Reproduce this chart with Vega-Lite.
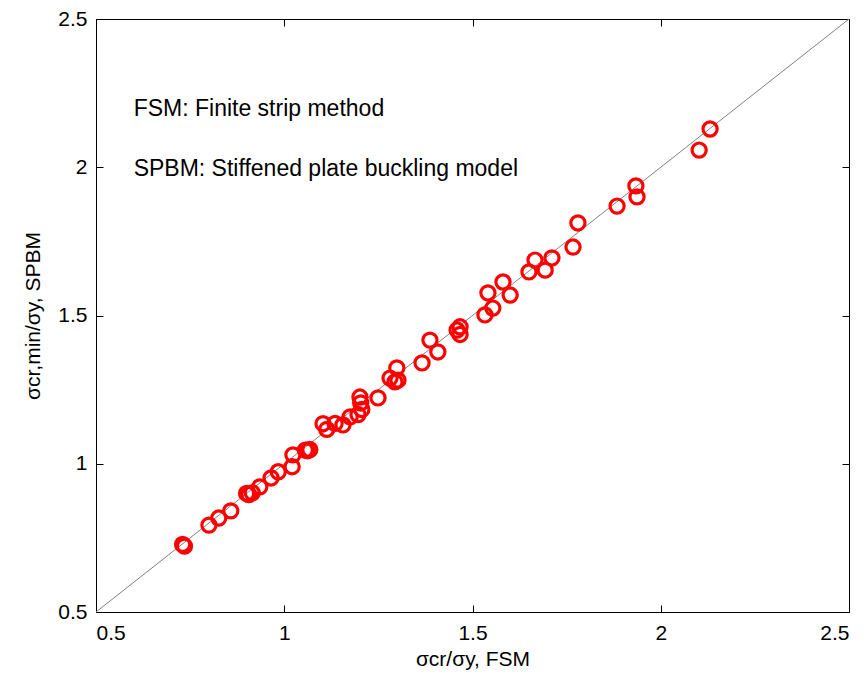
{
  "$schema": "https://vega.github.io/schema/vega-lite/v6.json",
  "width": 753,
  "height": 593,
  "autosize": {"type": "none"},
  "padding": {"left": 96, "top": 19, "right": 18, "bottom": 73},
  "background": "white",
  "config": {
    "view": {"stroke": "black", "strokeWidth": 1},
    "font": "Liberation Sans",
    "axis": {
      "grid": false,
      "domain": false,
      "offset": -7,
      "tickColor": "black",
      "tickSize": 7,
      "tickWidth": 1,
      "labelColor": "black",
      "labelFontSize": 21,
      "labelFont": "Liberation Sans",
      "titleColor": "black",
      "titleFontSize": 21,
      "titleFont": "Liberation Sans",
      "titleFontWeight": "normal"
    }
  },
  "datasets": {
    "pts": [
      {"fsm": 0.730, "spbm": 0.728},
      {"fsm": 0.735, "spbm": 0.722},
      {"fsm": 0.800, "spbm": 0.793},
      {"fsm": 0.826, "spbm": 0.817},
      {"fsm": 0.858, "spbm": 0.841},
      {"fsm": 0.900, "spbm": 0.900},
      {"fsm": 0.906, "spbm": 0.896},
      {"fsm": 0.915, "spbm": 0.902},
      {"fsm": 0.935, "spbm": 0.922},
      {"fsm": 0.965, "spbm": 0.952},
      {"fsm": 0.984, "spbm": 0.973},
      {"fsm": 1.021, "spbm": 0.990},
      {"fsm": 1.023, "spbm": 1.030},
      {"fsm": 1.056, "spbm": 1.046},
      {"fsm": 1.062, "spbm": 1.044},
      {"fsm": 1.068, "spbm": 1.048},
      {"fsm": 1.103, "spbm": 1.135},
      {"fsm": 1.113, "spbm": 1.116},
      {"fsm": 1.135, "spbm": 1.136},
      {"fsm": 1.156, "spbm": 1.131},
      {"fsm": 1.175, "spbm": 1.158},
      {"fsm": 1.196, "spbm": 1.166},
      {"fsm": 1.206, "spbm": 1.183},
      {"fsm": 1.203, "spbm": 1.205},
      {"fsm": 1.201, "spbm": 1.225},
      {"fsm": 1.249, "spbm": 1.222},
      {"fsm": 1.281, "spbm": 1.289},
      {"fsm": 1.299, "spbm": 1.323},
      {"fsm": 1.294, "spbm": 1.276},
      {"fsm": 1.302, "spbm": 1.282},
      {"fsm": 1.366, "spbm": 1.340},
      {"fsm": 1.387, "spbm": 1.417},
      {"fsm": 1.408, "spbm": 1.377},
      {"fsm": 1.459, "spbm": 1.451},
      {"fsm": 1.467, "spbm": 1.462},
      {"fsm": 1.467, "spbm": 1.436},
      {"fsm": 1.533, "spbm": 1.502},
      {"fsm": 1.554, "spbm": 1.525},
      {"fsm": 1.541, "spbm": 1.576},
      {"fsm": 1.581, "spbm": 1.613},
      {"fsm": 1.600, "spbm": 1.569},
      {"fsm": 1.650, "spbm": 1.647},
      {"fsm": 1.666, "spbm": 1.687},
      {"fsm": 1.693, "spbm": 1.653},
      {"fsm": 1.711, "spbm": 1.694},
      {"fsm": 1.767, "spbm": 1.731},
      {"fsm": 1.780, "spbm": 1.812},
      {"fsm": 1.884, "spbm": 1.869},
      {"fsm": 1.934, "spbm": 1.937},
      {"fsm": 1.937, "spbm": 1.900},
      {"fsm": 2.102, "spbm": 2.058},
      {"fsm": 2.131, "spbm": 2.129}
    ],
    "diag": [{"fsm": 0.5, "spbm": 0.5}, {"fsm": 2.5, "spbm": 2.5}],
    "notes": [
      {"fsm": 0.6, "spbm": 2.195, "label": "FSM: Finite strip method"},
      {"fsm": 0.6, "spbm": 1.995, "label": "SPBM: Stiffened plate buckling model"}
    ]
  },
  "layer": [
    {
      "data": {"name": "diag"},
      "mark": {"type": "line", "color": "#808080", "strokeWidth": 1},
      "encoding": {
        "x": {"field": "fsm", "type": "quantitative", "scale": {"domain": [0.5, 2.5], "nice": false, "zero": false},
              "axis": {"orient": "top", "labels": false, "title": null, "values": [0.5, 1, 1.5, 2, 2.5]}},
        "y": {"field": "spbm", "type": "quantitative", "scale": {"domain": [0.5, 2.5], "nice": false, "zero": false},
              "axis": {"orient": "right", "labels": false, "title": null, "values": [0.5, 1, 1.5, 2, 2.5]}}
      }
    },
    {
      "data": {"name": "pts"},
      "mark": {"type": "point", "shape": "circle", "filled": false, "color": "#ff0000", "strokeWidth": 3.2, "size": 200, "opacity": 1},
      "encoding": {
        "x": {"field": "fsm", "type": "quantitative", "scale": {"domain": [0.5, 2.5], "nice": false, "zero": false},
              "axis": {"orient": "bottom", "title": "σcr/σy, FSM", "values": [0.5, 1, 1.5, 2, 2.5], "format": "~g", "labelPadding": 10, "titlePadding": 5}},
        "y": {"field": "spbm", "type": "quantitative", "scale": {"domain": [0.5, 2.5], "nice": false, "zero": false},
              "axis": {"orient": "left", "title": "σcr,min/σy, SPBM", "values": [0.5, 1, 1.5, 2, 2.5], "format": "~g", "labelPadding": 9, "titlePadding": 14}}
      }
    },
    {
      "data": {"name": "notes"},
      "mark": {"type": "text", "align": "left", "baseline": "middle", "fontSize": 23, "font": "Liberation Sans", "color": "black"},
      "encoding": {
        "x": {"field": "fsm", "type": "quantitative", "axis": null},
        "y": {"field": "spbm", "type": "quantitative", "axis": null},
        "text": {"field": "label"}
      }
    }
  ],
  "resolve": {"axis": {"x": "independent", "y": "independent"}}
}
